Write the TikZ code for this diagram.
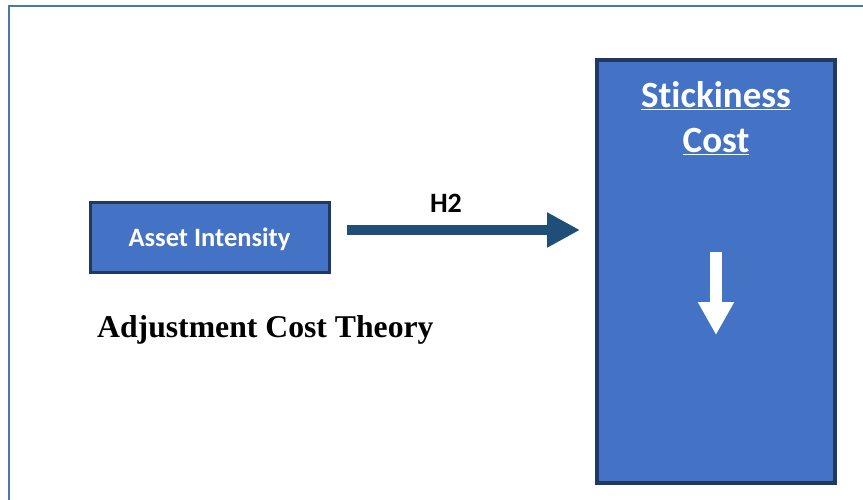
\documentclass[tikz,border=0pt]{standalone}
\usepackage{fontspec}
\setmainfont{Liberation Serif}
\newfontfamily\calib[Ligatures={NoCommon}]{Carlito}
\usetikzlibrary{arrows.meta,calc}
\definecolor{boxfill}{HTML}{4472C4}
\definecolor{boxline}{HTML}{203864}
\definecolor{arrowcol}{HTML}{1F4E79}
\definecolor{framecol}{HTML}{4A78AA}
\tikzset{
  bluebox/.style={draw=boxline, fill=boxfill, line width=3pt, inner sep=0pt},
  harrow/.style={draw=arrowcol, line width=10pt, -{Triangle[length=33pt,width=33pt]}},
  warrow/.style={draw=white, line width=12pt, -{Triangle[length=33pt,width=34pt]}},
  whitetext/.style={text=white, font=\calib\bfseries, inner sep=0pt}
}
\begin{document}
\begin{tikzpicture}[x=1pt,y=-1pt]
\useasboundingbox (0,0) rectangle (863,500);
% outer frame
\draw[framecol, line width=2.4pt] (9,520) -- (9,6) -- (880,6);
% boxes
\node[bluebox, minimum width=239pt, minimum height=69pt] (asset) at (209.5,237.5) {};
\node[whitetext, font=\calib\bfseries\fontsize{26.5}{30}\selectfont, anchor=base] (assettext) at (209.5,247) {Asset Intensity};
\node[bluebox, line width=3.5pt, minimum width=238pt, minimum height=423pt] (stick) at (716,271.5) {};
\node[whitetext, font=\calib\bfseries\fontsize{37}{45}\selectfont, anchor=base] (stick1) at (716,108) {\underline{Stickiness}};
\node[whitetext, font=\calib\bfseries\fontsize{37}{45}\selectfont, anchor=base] (stick2) at (716,153) {\underline{Cost}};
% H2 arrow
\coordinate (hs) at (347,230);
\coordinate (he) at (580,230);
\draw[harrow] (hs) -- (he);
\node[font=\calib\bfseries\fontsize{28}{32}\selectfont, anchor=base, inner sep=0pt] (h2) at (446,213) {H2};
% white arrow
\coordinate (ws) at (716,252);
\coordinate (we) at (716,335);
\draw[warrow] (ws) -- (we);
% theory label
\node[font=\bfseries\fontsize{31.7}{36}\selectfont, anchor=base west, inner sep=0pt] (theory) at (97,337) {Adjustment Cost Theory};
\end{tikzpicture}
\end{document}
